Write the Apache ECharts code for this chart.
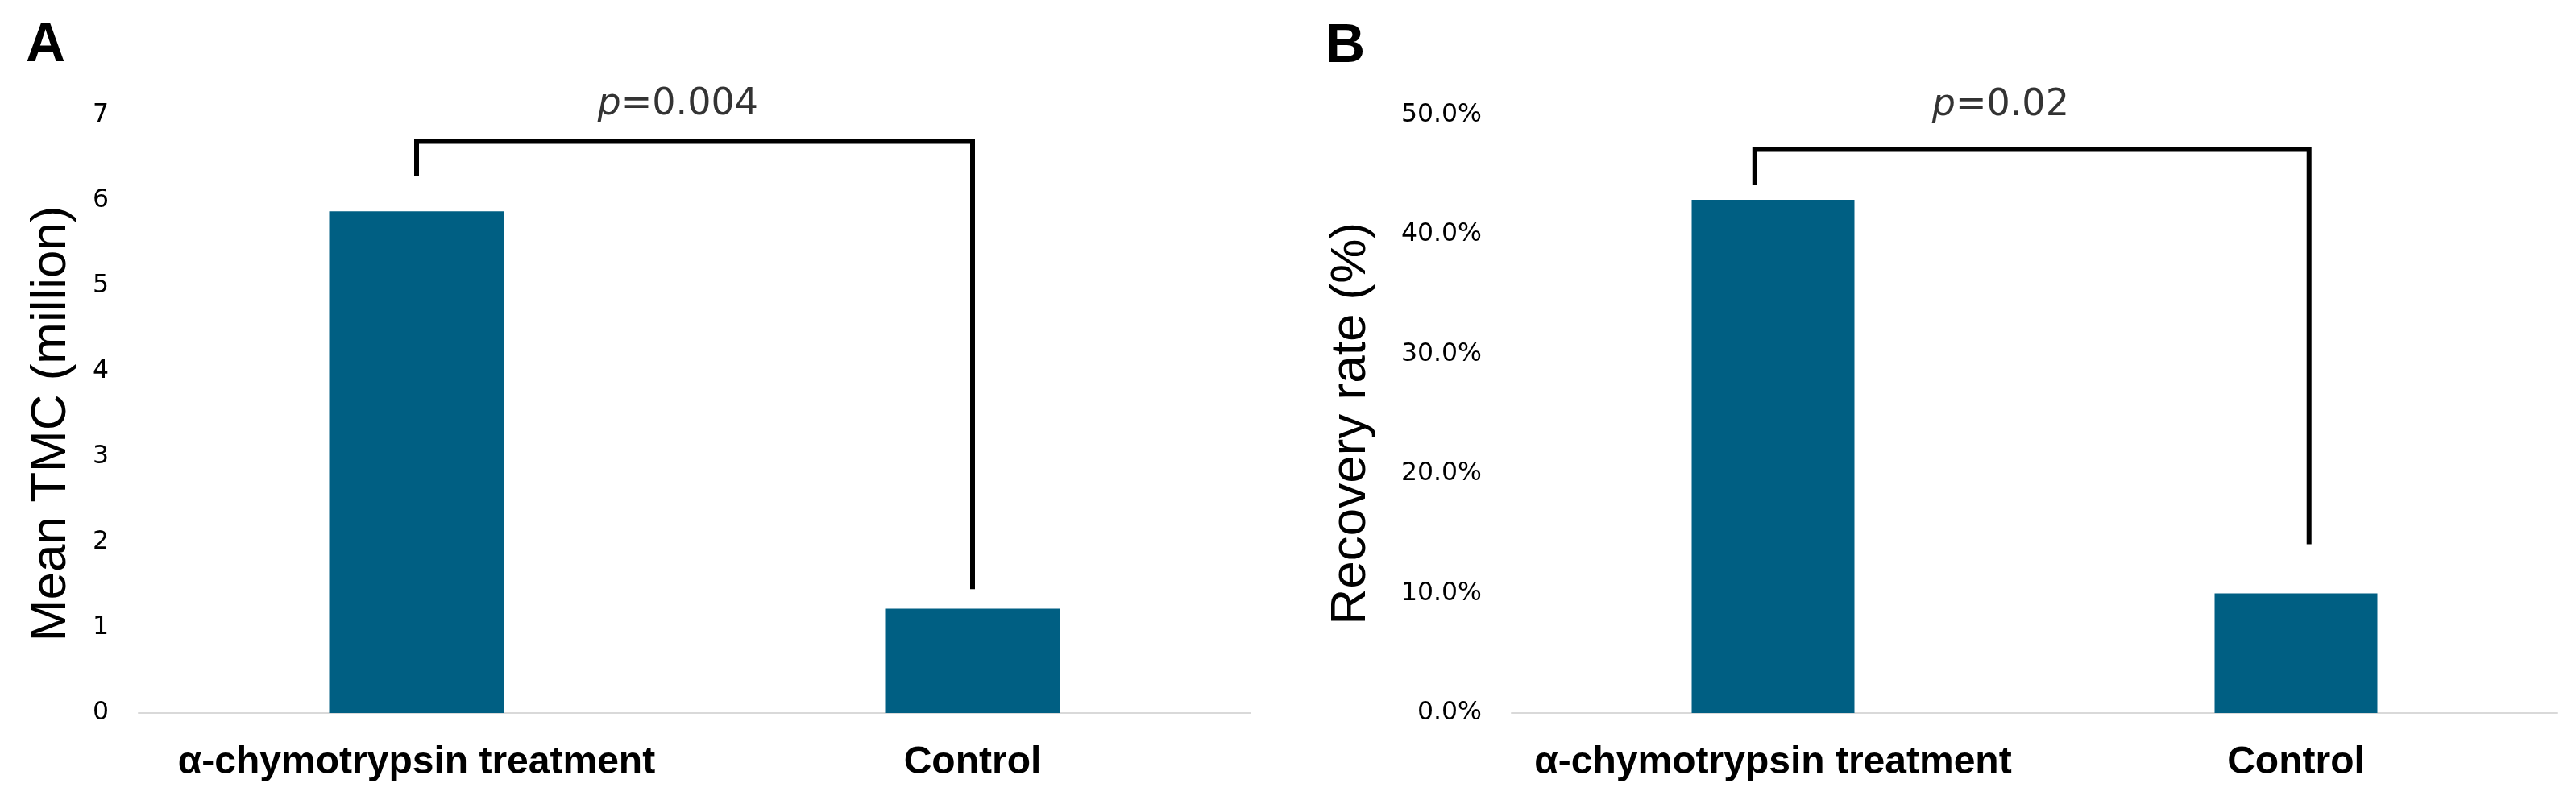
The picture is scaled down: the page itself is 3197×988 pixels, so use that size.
<!DOCTYPE html>
<html>
<head>
<meta charset="utf-8">
<script src="https://cdn.jsdelivr.net/npm/echarts@6/dist/echarts.min.js"></script>
<style>
  html, body { margin: 0; padding: 0; background: #fff; }
  #main { width: 3197px; height: 988px; }
</style>
</head>
<body>
<div id="main"></div>
<script>
var categories = ['α-chymotrypsin treatment', 'Control'];

// panel A : mean TMC (million)
var tmcValues = [5.87, 1.22];
var tmcAxis = { min: 0, max: 7, interval: 1 };
// bracket drawn on a hidden 0..2 value axis (category centres at 0.5 and 1.5)
var tmcBracket = [[0.5, 6.28], [0.5, 6.69], [1.5, 6.69], [1.5, 1.45]];
var tmcPText = [[0.97, 7.12, '{i|p}=0.004']];

// panel B : recovery rate
var recValues = [0.429, 0.100];
var recAxis = { min: 0, max: 0.5, interval: 0.1 };
var recBracket = [[0.465, 0.441], [0.465, 0.471], [1.525, 0.471], [1.525, 0.141]];
var recPText = [[0.935, 0.508, '{i|p}=0.02']];

var BAR_COLOR = '#005f83';
var SANS = '"Liberation Sans", Arial, sans-serif';
var TICK_FONT = '"DejaVu Sans", Verdana, sans-serif';

var myChart = echarts.init(document.getElementById('main'));

function catAxis(grid) {
    return {
        type: 'category',
        gridIndex: grid,
        data: categories,
        axisLine: { lineStyle: { color: '#d9d9d9', width: 2 } },
        axisTick: { show: false },
        axisLabel: {
            interval: 0,
            hideOverlap: false,
            margin: 38,
            color: '#000',
            fontFamily: SANS,
            fontWeight: 'bold',
            fontSize: 48,
            lineHeight: 48
        }
    };
}
function hiddenX(grid) {
    return { type: 'value', gridIndex: grid, min: 0, max: 2, show: false };
}
function valAxis(grid, range, name, gap, fmt) {
    return {
        type: 'value',
        gridIndex: grid,
        min: range.min,
        max: range.max,
        interval: range.interval,
        name: name,
        nameLocation: 'middle',
        nameGap: gap,
        nameTextStyle: {
            color: '#000',
            fontFamily: SANS,
            fontSize: 62,
            lineHeight: 62,
            padding: [0, 24, 0, 0]
        },
        axisLine: { show: false },
        axisTick: { show: false },
        splitLine: { show: false },
        axisLabel: {
            margin: 37,
            color: '#000',
            fontFamily: TICK_FONT,
            fontSize: 31.5,
            formatter: fmt
        }
    };
}
function barSeries(xi, yi, data, width) {
    return {
        type: 'bar',
        xAxisIndex: xi,
        yAxisIndex: yi,
        data: data,
        barWidth: width,
        itemStyle: { color: BAR_COLOR },
        silent: true
    };
}
function bracketSeries(xi, yi, pts) {
    return {
        type: 'line',
        xAxisIndex: xi,
        yAxisIndex: yi,
        data: pts,
        showSymbol: false,
        symbol: 'none',
        clip: false,
        silent: true,
        z: 5,
        lineStyle: { color: '#000', width: 6, cap: 'butt', join: 'miter' }
    };
}
function pSeries(xi, yi, pts) {
    return {
        type: 'scatter',
        xAxisIndex: xi,
        yAxisIndex: yi,
        data: pts,
        symbolSize: 0,
        clip: false,
        silent: true,
        label: {
            show: true,
            position: 'inside',
            formatter: function (p) { return p.data[2]; },
            color: '#000',
            fontFamily: TICK_FONT,
            fontSize: 46,
            rich: {
                i: { fontStyle: 'italic', fontFamily: TICK_FONT, fontSize: 46, color: '#000' }
            }
        }
    };
}

var option = {
    backgroundColor: '#fff',
    animation: false,
    title: [
        { text: 'A', left: 27, top: 18, textStyle: { fontFamily: SANS, fontWeight: 'bold', fontSize: 68, lineHeight: 68, color: '#000' } },
        { text: 'B', left: 1640, top: 19, textStyle: { fontFamily: SANS, fontWeight: 'bold', fontSize: 68, lineHeight: 68, color: '#000' } }
    ],
    grid: [
        { left: 172, top: 142.5, width: 1380, bottom: 103 },
        { left: 1876, top: 142.5, width: 1298, bottom: 103 }
    ],
    xAxis: [catAxis(0), hiddenX(0), catAxis(1), hiddenX(1)],
    yAxis: [
        valAxis(0, tmcAxis, 'Mean TMC (million)', 77, function (v) { return v; }),
        valAxis(1, recAxis, 'Recovery rate (%)', 168, function (v) { return (v * 100).toFixed(1) + '%'; })
    ],
    series: [
        barSeries(0, 0, tmcValues, 217),
        bracketSeries(1, 0, tmcBracket),
        pSeries(1, 0, tmcPText),
        barSeries(2, 1, recValues, 202),
        bracketSeries(3, 1, recBracket),
        pSeries(3, 1, recPText)
    ]
};

myChart.setOption(option);
</script>
</body>
</html>
